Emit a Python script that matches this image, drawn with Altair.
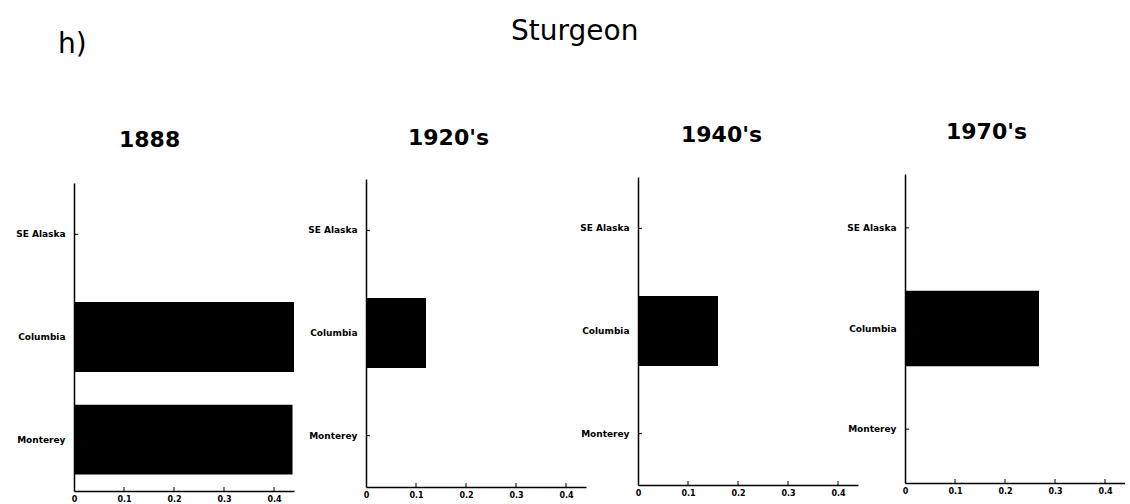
import altair as alt
import pandas as pd

# ---- data ----
regions = ["SE Alaska", "Columbia", "Monterey"]
periods = ["1888", "1920's", "1940's", "1970's"]
values_1888 = [0.0, 0.44, 0.437]
values_1920s = [0.0, 0.12, 0.0]
values_1940s = [0.0, 0.16, 0.0]
values_1970s = [0.0, 0.268, 0.0]
x_ticks = [0, 0.1, 0.2, 0.3, 0.4]
panel_label = "h)"
main_title = "Sturgeon"

W = 220
FONT = "DejaVu Sans"


def spacer(w, texts=None):
    if not texts:
        return alt.Chart(pd.DataFrame({"v": [0]})).mark_point(opacity=0).encode(
            x=alt.value(0), y=alt.value(0)
        ).properties(width=w, height=1)
    layers = []
    for txt, px, py in texts:
        layers.append(
            alt.Chart(pd.DataFrame({"t": [txt]})).mark_text(
                align="left", baseline="alphabetic", font=FONT, fontSize=28, color="black"
            ).encode(text="t:N", x=alt.value(px), y=alt.value(py))
        )
    return alt.layer(*layers).properties(width=w, height=1)


def panel(values, title, top_off, bottom, dx, offset, pad_inner=0.32):
    df = pd.DataFrame({"region": regions, "value": values})
    h = bottom
    xscale = alt.Scale(domain=[0, 0.44], nice=False, zero=True)
    yscale = alt.Scale(range=[top_off, bottom], paddingInner=pad_inner, paddingOuter=0.16)
    bars = alt.Chart(df).mark_bar(color="black").encode(
        x=alt.X("value:Q", scale=xscale,
                axis=alt.Axis(values=x_ticks, format="~g", title="",
                              labelFontSize=8, labelPadding=4, labelFlush=False)),
        y=alt.Y("region:N", sort=regions, scale=yscale,
                axis=alt.Axis(title="", labelFontSize=9, labelPadding=9)),
    )
    xt = alt.Chart(pd.DataFrame({"value": x_ticks[1:]})).mark_rule(color="black", strokeWidth=1).encode(
        x=alt.X("value:Q", scale=xscale),
        y=alt.value(h - 4), y2=alt.value(h),
    )
    yt = alt.Chart(pd.DataFrame({"region": regions})).mark_rule(color="black", strokeWidth=1).encode(
        y=alt.Y("region:N", sort=regions, scale=yscale),
        x=alt.value(0), x2=alt.value(4),
    )
    return alt.layer(bars, xt, yt).properties(
        width=W, height=h,
        title=alt.TitleParams(text=title, anchor="start", frame="group", dx=dx,
                              offset=offset, baseline="alphabetic", font=FONT,
                              fontSize=22, fontWeight="bold", color="black"),
    )


# panel tops (relative to a common top) and bottoms
p1 = panel(values_1888, periods[0], 9, 317, 45, 5)
p2 = panel(values_1920s, periods[1], 5, 313, 42, 7)
p3 = panel(values_1940s, periods[2], 3, 311, 43, 10)
p4 = panel(values_1970s, periods[3], 0, 309, 41, 13, pad_inner=0.25)

header_spacer = spacer(72, [(panel_label, -236, -121), (main_title, 217, -134)])

chart = alt.hconcat(
    p1, header_spacer, p2, spacer(52), p3, spacer(47), p4,
    spacing=0, bounds="flush",
).properties(
    padding={"left": 15, "top": 18, "right": 0, "bottom": 0},
    background="white",
).configure_view(strokeWidth=0).configure_axis(
    labelFont=FONT, labelFontWeight="bold", labelColor="black",
    domainColor="black", domainWidth=1.5, ticks=False, grid=False,
)

chart.save("out.html", embed_options={"renderer": "svg", "actions": False})
